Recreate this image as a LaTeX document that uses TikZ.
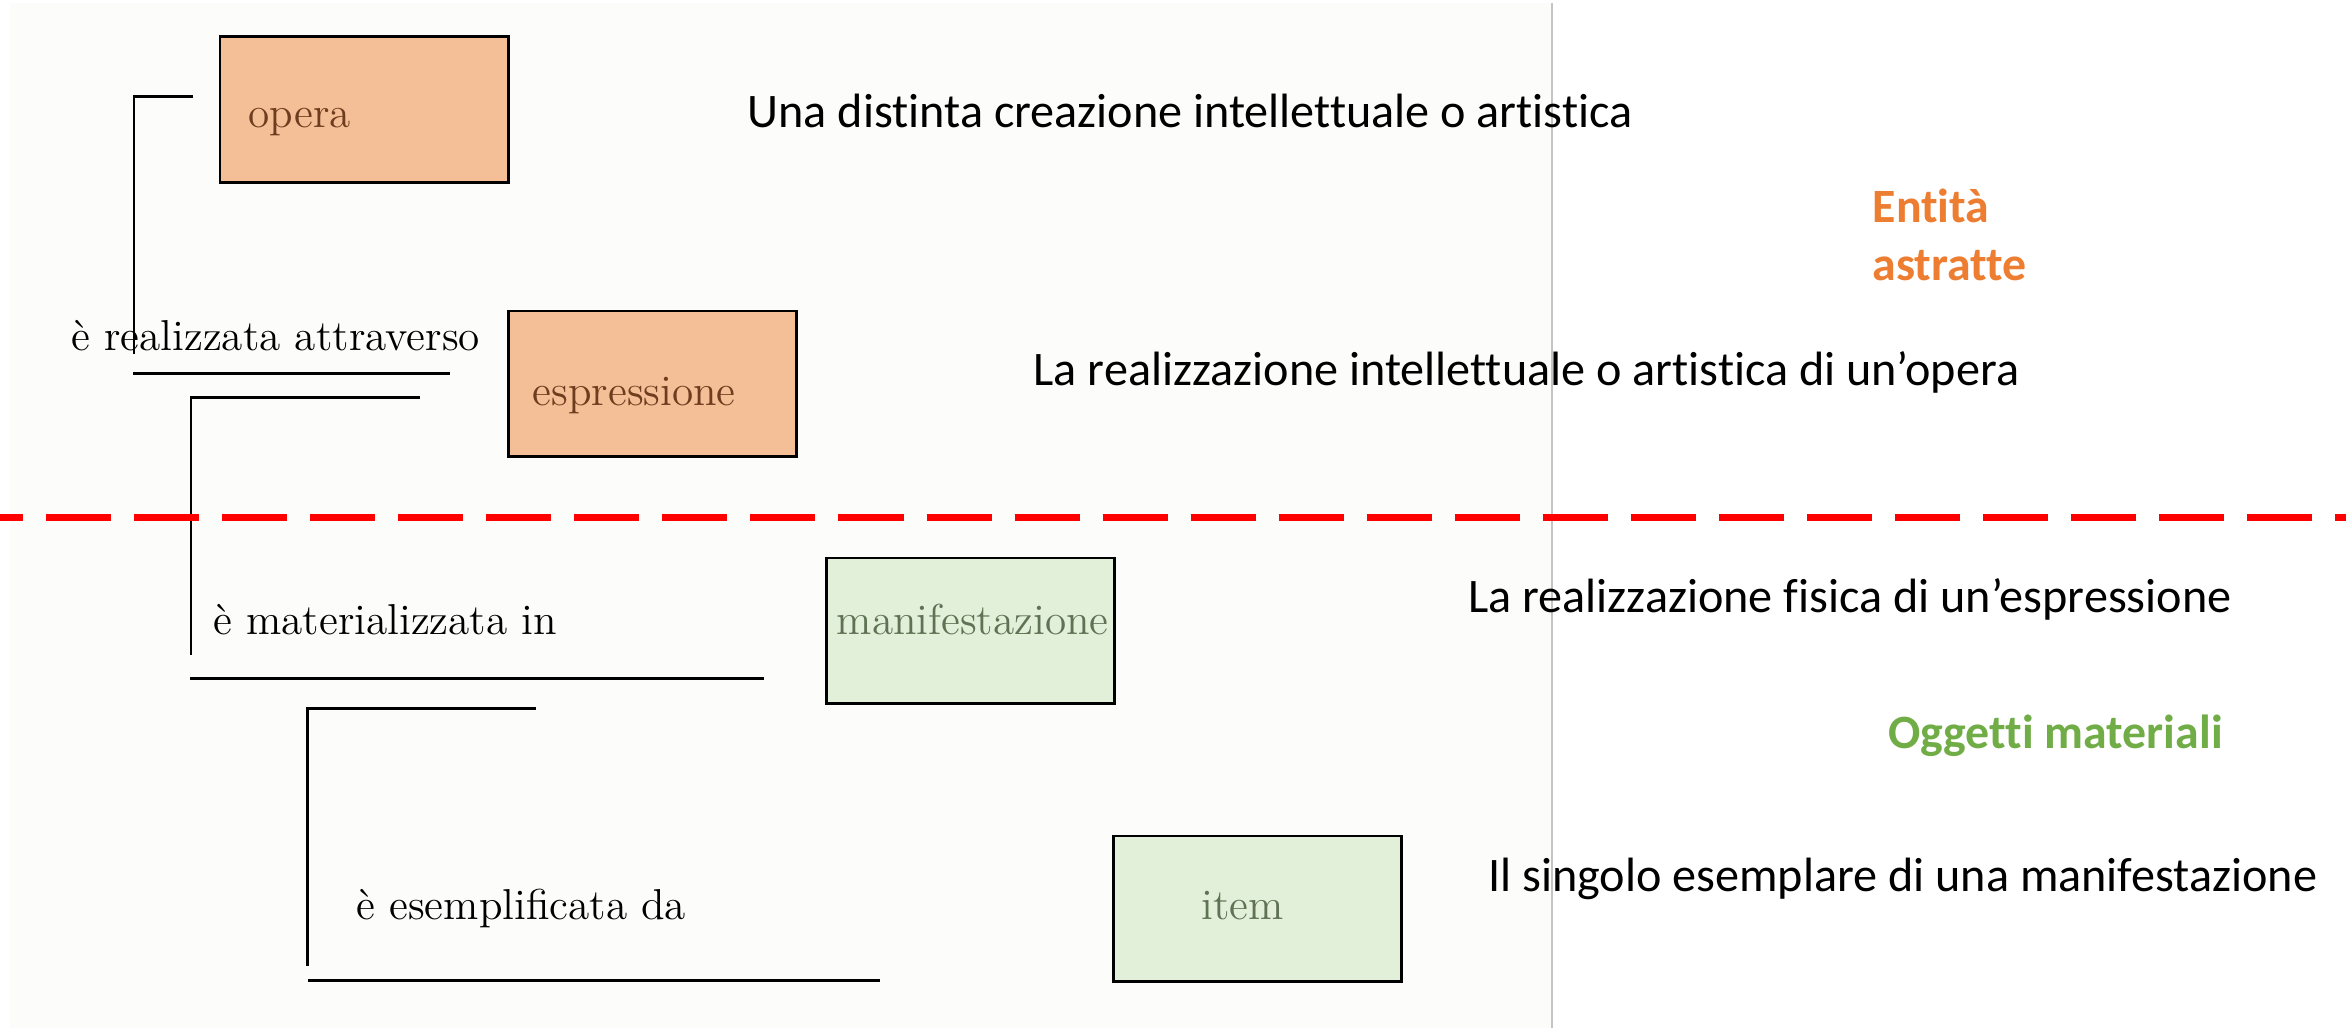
\documentclass[tikz,border=0pt]{standalone}
\usepackage{fontspec}
\newfontfamily\calibri[Ligatures=NoCommon]{Carlito}
\usetikzlibrary{calc}
\definecolor{panelbg}{HTML}{FCFDFB}
\definecolor{panelline}{HTML}{C4C4C4}
\definecolor{opfill}{HTML}{F4BE96}
\definecolor{optext}{HTML}{6E3C1E}
\definecolor{ogfill}{HTML}{E2EFD9}
\definecolor{ogtext}{HTML}{5F7254}
\definecolor{astrcol}{HTML}{ED7D31}
\definecolor{matcol}{HTML}{70AD47}
\tikzset{
  entity/.style={draw=black, line width=0.85pt, rectangle, anchor=north west, inner sep=0pt, outer sep=0pt, minimum width=2.88cm, minimum height=1.45cm},
  abstract/.style={entity, fill=opfill},
  material/.style={entity, fill=ogfill},
  serif/.style={anchor=base west, inner sep=0pt, font=\fontsize{12.3}{14}\selectfont},
  gloss/.style={anchor=base west, inner sep=0pt, font=\calibri\fontsize{13.7}{16}\selectfont},
  group/.style={anchor=base west, inner sep=0pt, font=\calibri\bfseries\fontsize{13.6}{16}\selectfont},
  bracket/.style={line width=0.85pt}
}
\begin{document}
\begin{tikzpicture}[x=0.01cm, y=-0.01cm]
\useasboundingbox (0,0) rectangle (2346,1028);
\fill[white] (0,0) rectangle (2346,1028);
\fill[panelbg] (10,3) rectangle (1552,1028);
\draw[panelline, line width=0.3pt] (1552,3) -- (1552,1028);

% entity boxes
\node (op) [abstract] at (220,37) {};
\node (es) [abstract] at (508,311) {};
\node (ma) [material] at (826,558) {};
\node (it) [material] at (1113,836) {};
\node (opT) [serif, text=optext] at (248,127.7) {opera};
\node (esT) [serif, text=optext] at (532,406) {espressione};
\node (maT) [serif, text=ogtext] at (836,635) {manifestazione};
\node (itT) [serif, text=ogtext] at (1201,919.3) {item};

% relations
\draw[bracket] (192.5,96.8) -- (134,96.8) -- (134,354);
\node (rel1) [serif] at (70.6,351) {è realizzata attraverso};
\draw[bracket] (133,373.8) -- (450,373.8);
\draw[bracket] (420,397.3) -- (191,397.3) -- (191,655);
\node (rel2) [serif] at (212.7,634.7) {è materializzata in};
\draw[bracket] (190,678.5) -- (764,678.5);
\draw[bracket] (536,708.8) -- (307.6,708.8) -- (307.6,966);
\node (rel3) [serif] at (355.8,919.2) {è esemplificata da};
\draw[bracket] (307.6,980.8) -- (880,980.8);

% border between the two groups
\draw[red, line width=1.85pt, dash pattern=on 0.65cm off 0.23cm, dash phase=0.42cm] (0,517.5) -- (2346,517.5);

% definitions
\node (def1) [gloss] at (747,127.9) {Una distinta creazione intellettuale o artistica};
\node (def2) [gloss] at (1033,385.6) {La realizzazione intellettuale o artistica di un’opera};
\node (def3) [gloss] at (1467.6,613) {La realizzazione fisica di un’espressione};
\node (def4) [gloss] at (1487.5,891.8) {Il singolo esemplare di una manifestazione};
\node (astr1) [group, text=astrcol] at (1872,223) {Entità};
\node (astr2) [group, text=astrcol] at (1872,280.7) {astratte};
\node (mat) [group, text=matcol] at (1887.6,748.9) {Oggetti materiali};
\end{tikzpicture}
\end{document}
